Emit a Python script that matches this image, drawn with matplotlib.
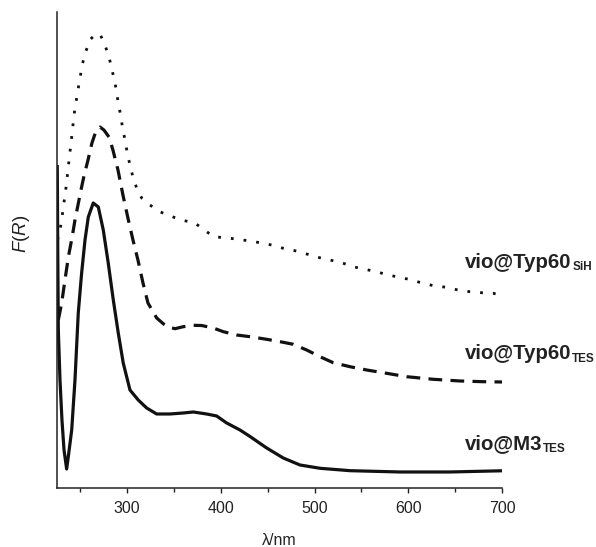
import numpy as np
import matplotlib
matplotlib.use("Agg")
import matplotlib.pyplot as plt
from matplotlib.ticker import MultipleLocator

plt.rcParams['font.family'] = ['Liberation Sans', 'DejaVu Sans']
plt.rcParams['mathtext.fontset'] = 'custom'
plt.rcParams['mathtext.it'] = 'Liberation Sans:italic'
plt.rcParams['mathtext.rm'] = 'Liberation Sans'

# vio@M3_TES (solid)
m3_nm = [225.3, 225.8, 226.4, 228.2, 230.3, 232.5, 235.3, 237.3, 240.7, 244.2, 247.7,
         251.3, 254.9, 258.4, 263.7, 269.1, 274.4, 279.7, 285.1, 290.4, 295.7, 302.9,
         311.7, 320.7, 331.4, 345.6, 359.8, 370.5, 377.6, 384.7, 395.4, 406.1, 420.3,
         431.0, 448.8, 466.5, 484.3, 505.7, 537.7, 591.0, 644.4, 700.0]
m3_F = [3.23, 2.38, 1.58, 1.08, 0.68, 0.38, 0.19, 0.33, 0.58, 1.08, 1.75,
        2.15, 2.48, 2.71, 2.85, 2.81, 2.58, 2.25, 1.88, 1.55, 1.25, 0.98,
        0.88, 0.80, 0.74, 0.74, 0.75, 0.76, 0.75, 0.74, 0.72, 0.65, 0.58,
        0.515, 0.40, 0.30, 0.23, 0.197, 0.173, 0.16, 0.16, 0.172]

# vio@Typ60_TES (dashed)
tes_nm = [226.4, 230.0, 233.5, 237.3, 241.0, 244.2, 247.4, 250.6, 253.8, 258.1, 262.3,
          266.6, 270.9, 275.1, 280.5, 284.7, 290.1, 295.4, 300.7, 306.1, 311.4, 316.8,
          322.1, 331.4, 342.1, 351.0, 359.8, 370.5, 379.4, 391.8, 402.5, 416.8, 431.0,
          448.8, 466.5, 477.2, 491.5, 505.7, 519.8, 537.7, 555.5, 576.8, 598.2, 626.6,
          655.1, 679.9, 700.0]
tes_F = [1.68, 1.85, 2.08, 2.32, 2.50, 2.68, 2.83, 2.98, 3.12, 3.28, 3.45,
         3.57, 3.61, 3.58, 3.51, 3.38, 3.18, 2.93, 2.70, 2.48, 2.28, 2.05,
         1.85, 1.70, 1.613, 1.593, 1.613, 1.627, 1.625, 1.60, 1.563, 1.53, 1.513,
         1.487, 1.457, 1.437, 1.38, 1.313, 1.253, 1.213, 1.18, 1.147, 1.113, 1.087,
         1.07, 1.063, 1.06]

# vio@Typ60_SiH (dotted)
sih_nm = [225.5, 228.2, 230.3, 231.7, 233.8, 235.3, 236.7, 238.1, 239.6, 241.0, 242.4,
          243.9, 246.0, 248.1, 250.3, 252.4, 255.9, 260.9, 265.5, 270.9, 276.2, 280.8,
          283.7, 286.6, 288.7, 290.8, 293.3, 295.1, 297.9, 300.0, 302.9, 305.8, 310.0,
          315.4, 324.2, 335.4, 347.4, 359.8, 371.2, 381.9, 391.8, 404.3, 416.0, 428.8,
          441.6, 454.1, 466.5, 479.0, 491.5, 503.5, 516.3, 528.8, 540.9, 553.7, 566.2,
          578.2, 591.0, 603.5, 615.6, 628.4, 640.9, 652.9, 665.7, 678.2, 690.3, 700.0]
sih_F = [2.48, 2.58, 2.70, 2.81, 2.94, 3.06, 3.18, 3.30, 3.42, 3.54, 3.66,
         3.78, 3.90, 4.02, 4.14, 4.25, 4.37, 4.49, 4.53, 4.54, 4.43, 4.30,
         4.18, 4.07, 3.95, 3.83, 3.71, 3.59, 3.47, 3.35, 3.23, 3.12, 3.00,
         2.90, 2.83, 2.76, 2.715, 2.675, 2.655, 2.585, 2.513, 2.503, 2.49, 2.473,
         2.453, 2.43, 2.397, 2.373, 2.34, 2.307, 2.28, 2.253, 2.213, 2.187, 2.163,
         2.13, 2.107, 2.08, 2.047, 2.02, 2.007, 1.98, 1.963, 1.953, 1.947, 1.93]

label_main = ["vio@Typ60", "vio@Typ60", "vio@M3"]
label_sub = ["SiH", "TES", "TES"]
label_y = [2.20, 1.285, 0.385]
label_x = 660.4

fig = plt.figure(figsize=(5.96, 5.47), dpi=100)
ax = fig.add_axes([0.0961, 0.1079, 0.8423 - 0.0961, 0.978 - 0.1079])

ax.plot(m3_nm, m3_F, color='#111111', lw=2.3, solid_capstyle='butt')
ax.plot(tes_nm, tes_F, color='#111111', lw=2.3, dashes=(4.3, 2.6), dash_capstyle='butt')
ax.plot(sih_nm, sih_F, color='#111111', lw=2.0, dashes=(1.0, 3.6), dash_capstyle='butt')

ax.set_xlim(225.3, 700)
ax.set_ylim(0, 4.76)
ax.spines['top'].set_visible(False)
ax.spines['right'].set_visible(False)
for s in ['left', 'bottom']:
    ax.spines[s].set_linewidth(1.1)
    ax.spines[s].set_color('#222222')
ax.set_yticks([])
ax.xaxis.set_major_locator(MultipleLocator(100))
ax.xaxis.set_minor_locator(MultipleLocator(50))
ax.tick_params(axis='x', which='major', direction='out', length=3.5, width=1.0,
               labelsize=11.5, pad=6, colors='#222222', labelcolor='#222222')
ax.tick_params(axis='x', which='minor', direction='out', length=3.0, width=1.0, colors='#222222')
ax.set_xlabel('λ/nm', fontsize=11.5, color='#222222', labelpad=12)
ax.set_ylabel(r'$F$($R$)', fontsize=13.5, color='#222222')
ax.yaxis.set_label_coords(-0.057, 0.535)

fig.canvas.draw()
renderer = fig.canvas.get_renderer()
for main, sub, y in zip(label_main, label_sub, label_y):
    t = ax.text(label_x, y, main, fontsize=14.7, fontweight='bold', color='#222222',
                ha='left', va='baseline', clip_on=False)
    bb = t.get_window_extent(renderer=renderer)
    ax.annotate(sub, xy=(label_x, y), xycoords='data',
                xytext=(bb.width * 72 / fig.dpi + 0.6, -1.5), textcoords='offset points',
                fontsize=8.5, fontweight='bold', color='#222222',
                ha='left', va='baseline', annotation_clip=False)

fig.savefig('out.png', dpi=100)
